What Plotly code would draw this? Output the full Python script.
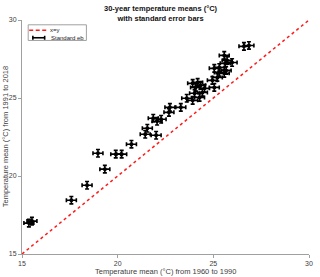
import plotly.graph_objects as go

x_1960_1990 = [15.36, 15.52, 17.58, 18.40, 18.97, 19.33, 19.90, 20.21, 20.72,
               21.55, 21.44, 22.01, 21.86, 22.27, 22.06, 22.73, 22.68, 23.30,
               23.61, 23.92, 24.28, 24.02, 24.07, 24.33, 24.18, 23.92, 24.54,
               25.05, 24.95, 25.21, 25.05, 25.31, 25.57, 25.31, 25.67, 25.62,
               25.72, 25.98, 25.57, 26.60, 26.86, 24.43]
y_1991_2018 = [16.98, 17.11, 18.45, 19.41, 21.46, 20.44, 21.40, 21.40, 22.04,
               23.06, 22.68, 22.61, 23.70, 23.64, 23.51, 24.40, 24.08, 24.40,
               24.98, 24.85, 25.04, 25.30, 25.68, 25.81, 26.00, 25.94, 25.62,
               25.68, 26.13, 26.32, 26.90, 26.64, 26.58, 26.96, 26.77, 27.22,
               27.41, 27.28, 27.73, 28.31, 28.37, 25.36]
x_err = [0.26] * len(x_1960_1990)
y_err = [0.24] * len(y_1991_2018)
diag = [15, 30]
ticks = [15, 20, 25, 30]
legend_labels = ["x=y", "Standard eb"]

font = "Liberation Sans, Arial, sans-serif"
txt = "#404040"
fig = go.Figure()
fig.add_trace(go.Scatter(
    x=diag, y=diag, mode="lines", name=legend_labels[0], showlegend=False,
    line=dict(color="#ff1a1a", width=1.5, dash="3px,3px")))
fig.add_trace(go.Scatter(
    x=x_1960_1990, y=y_1991_2018, mode="markers", name=legend_labels[1],
    showlegend=False,
    marker=dict(color="black", size=4),
    error_x=dict(type="data", array=x_err, color="black", thickness=1.6, width=2),
    error_y=dict(type="data", array=y_err, color="black", thickness=1.6, width=2)))

axis_common = dict(range=[15, 30], tickvals=ticks, showgrid=False, zeroline=False,
                   showline=True, linecolor="#a0a0a0", linewidth=1,
                   ticks="outside", ticklen=3, tickcolor="#a0a0a0",
                   tickfont=dict(size=7, color=txt, family=font),
                   ticklabeloverflow="allow", mirror=False)

# custom compact legend (paper coordinates)
shapes = [
    dict(type="rect", xref="paper", yref="paper", x0=0.0216, x1=0.2244,
         y0=0.9126, y1=0.9795, line=dict(color="#a0a0a0", width=1),
         fillcolor="white", layer="above"),
    dict(type="line", xref="paper", yref="paper", x0=0.0251, x1=0.0883,
         y0=0.9565, y1=0.9565, line=dict(color="#ff1a1a", width=1.5, dash="4px,2.5px"),
         layer="above"),
    dict(type="line", xref="paper", yref="paper", x0=0.0378, x1=0.079,
         y0=0.9241, y1=0.9241, line=dict(color="black", width=1.6), layer="above"),
    dict(type="line", xref="paper", yref="paper", x0=0.0378, x1=0.0378,
         y0=0.9156, y1=0.9326, line=dict(color="black", width=1.6), layer="above"),
    dict(type="line", xref="paper", yref="paper", x0=0.079, x1=0.079,
         y0=0.9156, y1=0.9326, line=dict(color="black", width=1.6), layer="above"),
]
annotations = [
    dict(text=legend_labels[0], x=0.0904, y=0.9565, xref="paper", yref="paper",
         xanchor="left", yanchor="middle", showarrow=False,
         font=dict(size=6, color="#222", family=font)),
    dict(text=legend_labels[1], x=0.0938, y=0.9241, xref="paper", yref="paper",
         xanchor="left", yanchor="middle", showarrow=False,
         font=dict(size=6, color="#222", family=font)),
    dict(text="<b>30-year temperature means (°C)<br>with standard error bars</b>",
         x=(163 - 22) / 291, y=(254 - 1) / 234.5, xref="paper", yref="paper",
         xanchor="center", yanchor="top", showarrow=False,
         font=dict(size=7.5, color="#111", family=font)),
    dict(text="Temperature mean (°C) from 1960 to 1990",
         x=0.5, y=(254 - 271.5) / 234.5, xref="paper", yref="paper",
         xanchor="center", yanchor="middle", showarrow=False,
         font=dict(size=7.5, color=txt, family=font)),
    dict(text="Temperature mean (°C) from 1991 to 2018", textangle=-90,
         x=(5 - 22) / 291, y=0.5, xref="paper", yref="paper",
         xanchor="center", yanchor="middle", showarrow=False,
         font=dict(size=7.5, color=txt, family=font)),
]

fig.update_layout(
    width=320, height=277,
    margin=dict(l=22, r=7, t=20, b=23),
    paper_bgcolor="white", plot_bgcolor="white",
    showlegend=False,
    xaxis=dict(**axis_common),
    yaxis=dict(**axis_common),
    shapes=shapes, annotations=annotations,
)
fig.write_html("out.html", config={"displayModeBar": False},
               post_script="document.body.style.margin='0';document.body.style.overflow='hidden';")
